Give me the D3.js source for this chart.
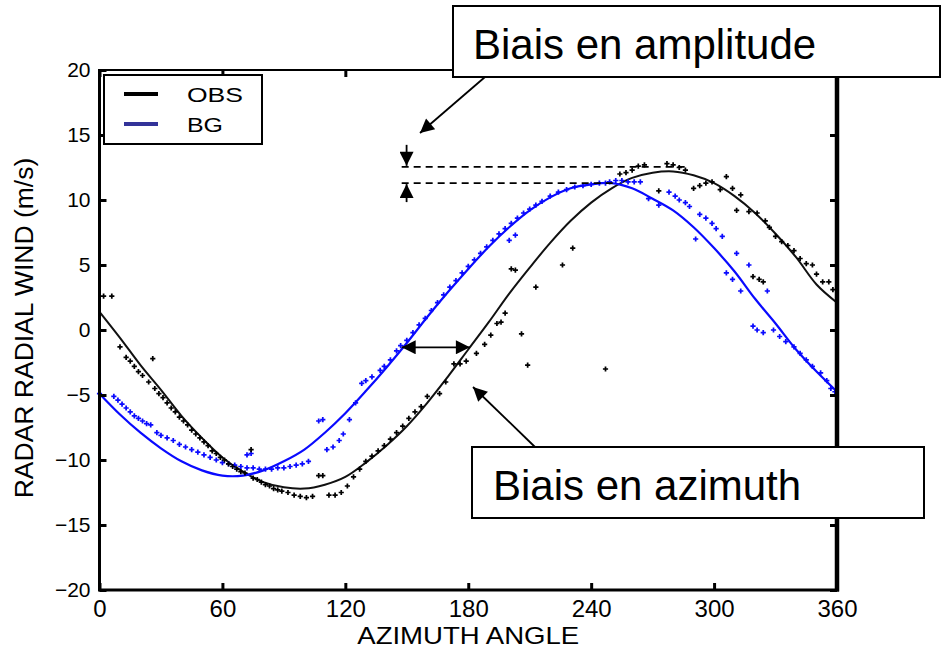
<!DOCTYPE html>
<html>
<head>
<meta charset="utf-8">
<script src="https://cdn.jsdelivr.net/npm/d3@7"></script>
<style>
  body { margin: 0; background: #fff; }
  svg { display: block; font-family: "Liberation Sans", Arial, Helvetica, sans-serif; }
</style>
</head>
<body>
<div id="radar_chart"></div>
<script>
// tick labels
const xTicks = [0, 60, 120, 180, 240, 300, 360];
const yTicks = [-20, -15, -10, -5, 0, 5, 10, 15, 20];

// fitted curves, read every 10 degrees
const fitAz = [0, 10, 20, 30, 40, 50, 60, 70, 80, 90, 100, 110, 120, 130, 140, 150, 160, 170, 180,
  190, 200, 210, 220, 230, 240, 250, 260, 270, 280, 290, 300, 310, 320, 330, 340, 350, 360];
const obsFit = [1.4, -0.6, -2.7, -4.6, -6.6, -8.3, -9.8, -10.9, -11.7, -12.1, -12.2, -11.9, -11.3, -10.2, -8.9, -7.4, -5.6, -3.6, -1.5,
  0.6, 2.8, 4.8, 6.7, 8.4, 9.8, 10.9, 11.7, 12.1, 12.2, 11.9, 11.3, 10.3, 9.0, 7.4, 5.6, 3.5, 2.1];
const bgFit = [-4.9, -6.5, -7.9, -9.1, -10.1, -10.8, -11.2, -11.2, -10.8, -10.1, -9.2, -7.9, -6.4, -4.7, -2.9, -1.0, 1.0, 2.9, 4.7,
  6.4, 7.9, 9.2, 10.2, 10.9, 11.2, 11.3, 10.9, 10.1, 9.2, 7.9, 6.3, 4.5, 2.4, 0.5, -1.5, -3.2, -4.75];

// observed radial winds [azimuth, value]
const obsPoints = [[2, 2.6], [6, 2.6], [10, -1.3], [13, -2.1], [15, -2.4], [17, -2.8], [19, -3.2], [21, -3.5], [24, -4.0],
  [26, -2.2], [27, -4.5], [29, -4.9], [31, -5.2], [33, -5.6], [35, -6.0], [37, -6.3], [39, -6.7], [41, -7.0], [43, -7.3],
  [45, -7.7], [47, -8.0], [49, -8.3], [51, -8.6], [53, -8.9], [55, -9.3], [57, -9.5], [59, -9.8], [61, -10.0], [63, -10.3],
  [65, -10.5], [67, -10.7], [69, -10.9], [71, -11.0], [74, -9.2], [75, -11.4], [77, -11.5], [79, -11.7], [81, -11.9],
  [83, -12.0], [85, -12.2], [87, -12.3], [89, -12.4], [92, -12.5], [95, -12.7], [98, -12.8], [101, -12.9], [104, -12.8],
  [107, -11.2], [109, -11.2], [112, -12.7], [115, -12.7], [118, -12.5], [121, -12.0], [124, -11.3], [127, -10.7],
  [130, -10.1], [133, -9.7], [136, -9.3], [139, -8.9], [142, -8.4], [145, -7.9], [148, -7.4], [151, -6.8], [154, -6.3],
  [157, -5.9], [160, -5.1], [166, -4.9], [169, -4.0], [173, -2.6], [176, -2.6], [179, -2.4], [184, -1.8], [188, -1.1],
  [191, -0.4], [194, 0.5], [196, 0.6], [198, 1.3], [201, 4.7], [203, 4.6], [206, -0.3], [209, -2.7], [213, 3.3],
  [226, 5.0], [231, 6.3], [247, -3.0], [254, 12.0], [257, 12.1], [260, 12.3], [263, 12.6], [266, 12.7], [273, 10.7],
  [277, 12.8], [280, 12.7], [283, 12.5], [286, 12.3], [290, 10.9], [293, 11.1], [296, 11.3], [299, 11.4], [303, 10.8],
  [306, 11.8], [309, 10.9], [311, 9.2], [313, 10.4], [317, 9.1], [319, 4.1], [321, 9.0], [322, 3.9], [324, 3.7],
  [325, 8.4], [327, 7.9], [330, 7.2], [333, 6.8], [336, 6.5], [339, 6.1], [342, 5.5], [345, 5.1], [348, 5.0],
  [350, 4.3], [353, 3.7], [356, 3.7], [358, 3.1]];

// background (model) radial winds [azimuth, value]
const bgPoints = [[0, -4.9], [7, -5.1], [9, -5.4], [11, -5.7], [13, -6.0], [15, -6.3], [17, -6.6], [19, -6.8], [21, -7.0],
  [23, -7.2], [25, -7.3], [28, -7.9], [30, -8.1], [33, -8.3], [36, -8.5], [39, -8.8], [42, -9.0], [45, -9.2], [48, -9.4],
  [51, -9.6], [54, -9.8], [57, -10.0], [60, -10.2], [63, -10.3], [66, -10.4], [69, -10.5], [72, -9.6], [74, -9.5],
  [72, -10.6], [75, -10.6], [78, -10.7], [81, -10.7], [84, -10.7], [87, -10.6], [90, -10.6], [93, -10.5], [96, -10.4],
  [99, -10.3], [102, -10.1], [107, -7.0], [109, -6.9], [111, -9.2], [114, -9.0], [117, -8.5], [119, -8.0], [122, -6.9],
  [125, -5.6], [128, -4.1], [130, -3.9], [133, -3.6], [137, -3.1], [139, -2.8], [142, -2.3], [145, -1.6], [147, -1.2],
  [150, -0.8], [153, -0.2], [156, 0.4], [159, 0.9], [162, 1.5], [165, 2.1], [168, 2.7], [171, 3.3], [174, 3.8],
  [177, 4.4], [180, 4.9], [183, 5.4], [186, 5.9], [189, 6.4], [192, 6.9], [195, 7.4], [198, 7.8], [200, 6.9],
  [203, 7.3], [201, 8.2], [204, 8.6], [207, 9.0], [210, 9.3], [213, 9.6], [216, 9.9], [220, 10.3], [224, 10.6],
  [228, 10.8], [232, 11.0], [236, 11.1], [240, 11.2], [244, 11.3], [247, 11.3], [249, 11.4], [252, 11.5], [255, 11.5],
  [258, 11.4], [261, 11.4], [264, 11.4], [268, 10.1], [273, 9.6], [278, 10.6], [281, 10.3], [283, 10.0], [286, 9.8],
  [288, 9.5], [291, 7.0], [293, 8.9], [296, 8.6], [299, 8.2], [301, 7.8], [304, 7.2], [306, 4.4], [309, 3.9],
  [311, 5.9], [313, 3.0], [317, 5.0], [319, 0.3], [321, 0.0], [324, -0.2], [326, 3.0], [329, 0.0], [332, -0.5],
  [335, -0.9], [339, -1.3], [342, -1.8], [345, -2.3], [348, -2.8], [352, -3.3], [355, -3.9], [357, -4.5], [359, -4.75]];

// legend entries
const legendLabels = ["OBS", "BG"];

// annotation anchors in data units
const ampTop = 12.55, ampBottom = 11.3;
const azShift = {from: 147.5, to: 180.8, value: -1.33};

function create_svg() {
  const width = 950, height = 650;
  const plot = {left: 99.5, right: 837, top: 70, bottom: 590};

  const svg = d3.select("#radar_chart")
    .append("svg")
      .attr("width", width)
      .attr("height", height);

  const x = d3.scaleLinear().domain([0, 360]).range([plot.left, plot.right]);
  const y = d3.scaleLinear().domain([-20, 20]).range([plot.bottom, plot.top]);

  const blue = "#0a0aff";

  // fitted curves
  const line = (vals) => d3.line()
    .x((d, i) => x(fitAz[i]))
    .y(d => y(d))
    .curve(d3.curveCatmullRom)(vals);

  svg.append("path").attr("d", line(obsFit))
    .attr("fill", "none").attr("stroke", "#111").attr("stroke-width", 2);
  svg.append("path").attr("d", line(bgFit))
    .attr("fill", "none").attr("stroke", blue).attr("stroke-width", 2.2);

  // scatter points as small crosses
  const cross = d3.symbol().type(d3.symbolCross).size(15);
  svg.append("g").selectAll("path")
    .data(bgPoints)
    .join("path")
      .attr("d", cross)
      .attr("transform", d => `translate(${x(d[0])},${y(d[1])})`)
      .attr("fill", blue);
  svg.append("g").selectAll("path")
    .data(obsPoints)
    .join("path")
      .attr("d", cross)
      .attr("transform", d => `translate(${x(d[0])},${y(d[1])})`)
      .attr("fill", "#000");

  // axes, ticks pointing inward on the four sides
  const styleAxis = (g, size) => {
    g.select(".domain").remove();
    g.selectAll(".tick line").attr("stroke", "#000").attr("stroke-width", 3);
    g.selectAll("text").attr("fill", "#000").style("font-size", size + "px");
  };

  svg.append("g")
    .attr("transform", `translate(0,${plot.bottom})`)
    .call(d3.axisBottom(x).tickValues(xTicks).tickSizeInner(-7).tickSizeOuter(0).tickPadding(10))
    .call(g => styleAxis(g, 24))
    .attr("font-family", null);
  svg.append("g")
    .attr("transform", `translate(0,${plot.top})`)
    .call(d3.axisTop(x).tickValues(xTicks).tickSizeInner(-7).tickSizeOuter(0).tickFormat(""))
    .call(g => styleAxis(g, 10));
  svg.append("g")
    .attr("transform", `translate(${plot.left},0)`)
    .call(d3.axisLeft(y).tickValues(yTicks).tickSizeInner(-7).tickSizeOuter(0).tickPadding(9))
    .call(g => styleAxis(g, 21))
    .attr("font-family", null);
  svg.append("g")
    .attr("transform", `translate(${plot.right},0)`)
    .call(d3.axisRight(y).tickValues(yTicks).tickSizeInner(-7).tickSizeOuter(0).tickFormat(""))
    .call(g => styleAxis(g, 10));

  // frame
  svg.append("line").attr("x1", plot.left).attr("x2", plot.right).attr("y1", plot.top).attr("y2", plot.top)
    .attr("stroke", "#000").attr("stroke-width", 2);
  svg.append("line").attr("x1", plot.left).attr("x2", plot.right + 2).attr("y1", plot.bottom).attr("y2", plot.bottom)
    .attr("stroke", "#000").attr("stroke-width", 3);
  svg.append("line").attr("x1", plot.left).attr("x2", plot.left).attr("y1", plot.top - 1).attr("y2", plot.bottom + 1.5)
    .attr("stroke", "#000").attr("stroke-width", 3);
  svg.append("line").attr("x1", plot.right).attr("x2", plot.right).attr("y1", plot.top - 1).attr("y2", plot.bottom + 1.5)
    .attr("stroke", "#000").attr("stroke-width", 4.5);

  // axis titles
  svg.append("text")
    .attr("x", (plot.left + plot.right) / 2)
    .attr("y", 644)
    .attr("text-anchor", "middle")
    .attr("textLength", 222)
    .attr("lengthAdjust", "spacingAndGlyphs")
    .style("font-size", "24px")
    .text("AZIMUTH ANGLE");
  svg.append("text")
    .attr("transform", "translate(33,328) rotate(-90)")
    .attr("text-anchor", "middle")
    .style("font-size", "26.5px")
    .text("RADAR RADIAL WIND (m/s)");

  // legend
  const legend = svg.append("g");
  legend.append("rect")
    .attr("x", 104).attr("y", 75).attr("width", 158).attr("height", 69)
    .attr("fill", "#fff").attr("stroke", "#000").attr("stroke-width", 2);
  const legendColors = ["#000", "#333399"];
  const legendWidths = [56, 36];
  legendLabels.forEach((label, i) => {
    legend.append("line")
      .attr("x1", 124).attr("x2", 158).attr("y1", 94 + i * 30).attr("y2", 94 + i * 30)
      .attr("stroke", legendColors[i]).attr("stroke-width", 4);
    legend.append("text")
      .attr("x", 187).attr("y", 101.5 + i * 30)
      .attr("textLength", legendWidths[i])
      .attr("lengthAdjust", "spacingAndGlyphs")
      .style("font-size", "21px")
      .text(label);
  });

  // annotations
  const defs = svg.append("defs");
  defs.append("marker")
    .attr("id", "head")
    .attr("viewBox", "0 0 10 10")
    .attr("refX", 10).attr("refY", 5)
    .attr("markerWidth", 16).attr("markerHeight", 14)
    .attr("markerUnits", "userSpaceOnUse")
    .attr("orient", "auto-start-reverse")
    .append("path").attr("d", "M0,0L10,5L0,10Z").attr("fill", "#000");

  const arrow = (x1, y1, x2, y2, both) => {
    const l = svg.append("line")
      .attr("x1", x1).attr("y1", y1).attr("x2", x2).attr("y2", y2)
      .attr("stroke", "#000").attr("stroke-width", 1.8)
      .attr("marker-end", "url(#head)");
    if (both) l.attr("marker-start", "url(#head)");
  };

  // amplitude bias: dashed levels and the two small arrows
  svg.append("line")
    .attr("x1", x(147.5)).attr("x2", x(286.5)).attr("y1", y(ampTop)).attr("y2", y(ampTop))
    .attr("stroke", "#000").attr("stroke-width", 1.6).attr("stroke-dasharray", "7,5");
  svg.append("line")
    .attr("x1", x(147.5)).attr("x2", x(252.5)).attr("y1", y(ampBottom)).attr("y2", y(ampBottom))
    .attr("stroke", "#000").attr("stroke-width", 1.6).attr("stroke-dasharray", "7,5");
  arrow(x(149.9), y(ampTop) - 22, x(149.9), y(ampTop) - 1);
  arrow(x(149.9), y(ampBottom) + 19, x(149.9), y(ampBottom) + 1);

  // azimuth bias double arrow
  arrow(x(azShift.from), y(azShift.value), x(azShift.to), y(azShift.value), true);

  // callout arrows
  arrow(485, 77, 420, 133);
  arrow(535, 447, 473, 387);

  // callout boxes
  const callout = (bx, by, bw, bh, tx, ty, label) => {
    svg.append("rect")
      .attr("x", bx).attr("y", by).attr("width", bw).attr("height", bh)
      .attr("fill", "#fff").attr("stroke", "#000").attr("stroke-width", 2);
    svg.append("text")
      .attr("x", tx).attr("y", ty)
      .style("font-size", "42px")
      .text(label);
  };
  callout(453, 6, 487, 71, 473, 59, "Biais en amplitude");
  callout(472, 447, 452, 71, 493, 500, "Biais en azimuth");
}

create_svg();
</script>
</body>
</html>
